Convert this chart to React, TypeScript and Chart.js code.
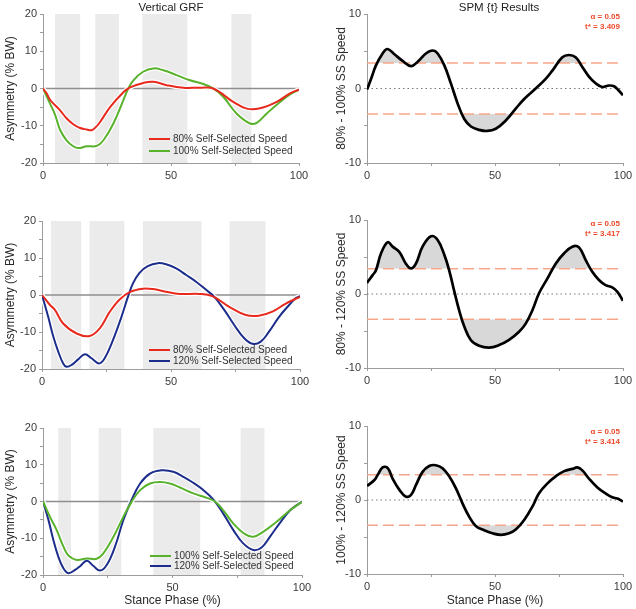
import React, { useEffect, useRef } from 'react';
import { Chart, registerables } from 'chart.js';

Chart.register(...registerables);

type Pt = [number, number];

const FONT = "'Liberation Sans', Arial, Helvetica, sans-serif";
Chart.defaults.font.family = FONT;
Chart.defaults.color = '#333333';

// ---------- Vertical GRF asymmetry (% BW), [stance %, value] ----------
const grf80_top: Pt[] = [
  [0, 0], [1.4, -1.3], [2.7, -3.0], [4.0, -4.0], [6.6, -5.8], [9.2, -8.0], [11.8, -9.6],
  [14.5, -10.6], [17.1, -11.0], [19.0, -11.2], [21.0, -10.1], [22.3, -9.0], [26.2, -5.0],
  [31.4, -1.0], [34.0, 0.3], [39.2, 1.5], [43.1, 1.8], [48.3, 0.9], [54.8, 0.2], [61.3, 0.2],
  [66.5, 0.0], [74.3, -3.6], [79.6, -5.4], [84.8, -5.3], [91.3, -3.6], [96.5, -1.3], [100, -0.3],
];
const grf100_top: Pt[] = [
  [0, 0], [2.7, -4.0], [4.7, -7.0], [6.6, -11.0], [9.2, -13.9], [11.8, -15.5], [13.8, -16.0],
  [17.1, -15.5], [21.0, -15.4], [23.6, -13.9], [27.5, -9.4], [31.4, -3.1], [33.3, 0.0],
  [35.3, 2.2], [39.1, 4.5], [43.1, 5.4], [47.0, 4.9], [52.2, 3.6], [57.4, 2.2], [62.6, 1.2],
  [66.5, 0.0], [70.4, -2.2], [75.6, -6.7], [80.9, -9.4], [83.5, -9.2], [87.4, -6.7],
  [92.6, -3.6], [96.5, -1.6], [100, -0.3],
];
const grf80_mid: Pt[] = [
  [0, 0], [3.1, -2.7], [5.0, -4.0], [8.2, -7.7], [13.4, -10.4], [18.5, -11.1], [22.4, -9.0],
  [26.3, -4.5], [30.1, -1.2], [34.0, 0.8], [39.1, 1.7], [43.0, 1.6], [48.0, 0.9], [53.3, 0.3],
  [61.0, 0.3], [66.0, -0.3], [72.6, -3.2], [79.0, -5.4], [84.0, -5.6], [89.3, -4.5],
  [94.5, -2.3], [100, -0.5],
];
const grf120_mid: Pt[] = [
  [0, 0], [2.4, -5.9], [4.4, -11.3], [6.3, -15.3], [8.2, -18.5], [9.5, -19.4], [11.5, -18.9],
  [14.0, -17.4], [16.6, -16.0], [19.2, -17.1], [22.1, -18.5], [24.3, -17.1], [27.5, -12.2],
  [30.8, -5.9], [33.3, -0.5], [35.3, 3.2], [37.8, 6.0], [41.0, 7.8], [44.9, 8.6], [48.1, 8.3],
  [52.0, 7.2], [55.9, 5.4], [59.7, 3.6], [63.6, 1.4], [66.8, -0.5], [70.7, -4.1], [74.5, -8.1],
  [78.4, -11.7], [81.6, -13.2], [84.8, -12.6], [88.0, -9.9], [91.9, -5.9], [95.8, -2.7],
  [98.3, -0.9], [100, -0.3],
];
const grf100_bot: Pt[] = [
  [0, 0], [2.7, -4.2], [5.3, -7.8], [7.9, -12.3], [9.8, -14.7], [13.0, -15.9], [16.9, -15.5],
  [20.7, -15.6], [23.3, -14.1], [27.2, -9.6], [31.0, -4.2], [34.2, -0.1], [37.5, 3.1],
  [41.3, 4.9], [45.2, 5.3], [49.0, 4.9], [52.9, 3.8], [58.0, 2.2], [63.2, 1.0], [66.4, 0.0],
  [69.6, -2.4], [73.5, -6.0], [78.0, -8.9], [81.2, -9.6], [85.1, -8.2], [90.2, -5.5],
  [95.4, -2.4], [100, -0.1],
];
const grf120_bot: Pt[] = [
  [0, 0], [2.1, -5.0], [4.0, -10.5], [5.9, -15.0], [7.9, -18.2], [9.8, -19.5], [12.4, -18.6],
  [14.3, -17.6], [16.9, -16.1], [19.4, -17.5], [22.0, -18.8], [24.6, -17.3], [27.8, -12.3],
  [31.0, -5.1], [34.2, 0.4], [37.5, 4.9], [41.3, 7.6], [45.8, 8.5], [50.3, 8.1], [54.2, 6.7],
  [58.0, 5.1], [61.9, 3.1], [65.8, 0.5], [69.6, -3.3], [73.5, -7.8], [77.3, -11.4],
  [81.2, -13.2], [84.4, -12.5], [87.6, -9.6], [91.5, -5.8], [95.4, -2.4], [98.6, -0.7], [100, -0.1],
];

// ---------- Significant regions (stance % start, end) ----------
const bands_top: Pt[] = [[4.7, 14.5], [20.4, 29.7], [38.8, 56.4], [73.6, 81.4]];
const bands_mid: Pt[] = [[3.5, 15.2], [18.4, 31.9], [39.1, 61.8], [72.7, 86.6]];
const bands_bot: Pt[] = [[5.9, 10.8], [21.5, 30.2], [42.6, 60.7], [76.3, 85.5]];

// ---------- SPM {t} statistic ----------
const spm_80_100: Pt[] = [
  [0, -0.15], [1.6, 1.3], [3.5, 3.1], [6.1, 4.7], [8.0, 5.3], [10.7, 4.6], [13.9, 3.7],
  [17.2, 3.0], [19.8, 3.6], [23.0, 4.7], [25.6, 5.1], [27.6, 4.7], [30.2, 3.1], [32.8, 0.65],
  [35.4, -2.0], [38.0, -4.1], [40.6, -5.1], [43.8, -5.55], [47.0, -5.7], [50.3, -5.4],
  [54.2, -4.3], [58.1, -2.7], [61.4, -1.4], [65.9, 0.0], [69.8, 1.3], [72.4, 2.4], [76.3, 4.2],
  [78.9, 4.5], [81.5, 4.2], [84.1, 2.9], [86.7, 1.6], [89.3, 0.7], [91.9, 0.2], [94.5, 0.4],
  [96.5, 0.3], [98.4, -0.3], [100, -0.9],
];
const spm_80_120: Pt[] = [
  [0, 1.5], [2.2, 2.55], [3.5, 3.2], [5.5, 5.5], [8.1, 7.0], [10.0, 6.4], [12.6, 5.7],
  [15.2, 4.1], [17.2, 3.45], [19.1, 4.1], [21.7, 6.4], [25.0, 7.8], [27.6, 7.3], [30.2, 5.3],
  [32.1, 3.2], [34.0, 0.5], [36.0, -2.2], [38.0, -4.4], [40.6, -6.25], [43.8, -7.0],
  [47.7, -7.25], [51.6, -6.9], [55.5, -6.2], [59.4, -5.1], [62.0, -4.0], [64.6, -2.2],
  [67.2, 0.1], [70.5, 2.1], [73.7, 4.1], [77.0, 5.5], [80.2, 6.4], [82.8, 6.3], [85.4, 4.6],
  [88.0, 3.0], [90.6, 1.9], [93.2, 1.2], [95.8, 0.9], [97.8, 0.3], [100, -0.9],
];
const spm_100_120: Pt[] = [
  [0, 1.9], [2.9, 2.7], [4.2, 3.4], [6.1, 4.4], [8.1, 4.3], [10.0, 2.9], [12.6, 1.4],
  [15.2, 0.45], [17.2, 0.7], [19.1, 2.0], [21.7, 3.8], [24.3, 4.6], [26.9, 4.7], [29.5, 4.3],
  [32.1, 3.2], [34.7, 1.6], [37.3, -0.45], [39.9, -2.25], [42.5, -3.5], [45.8, -4.1],
  [49.0, -4.5], [52.3, -4.7], [55.5, -4.5], [58.1, -4.0], [61.4, -2.7], [64.6, -0.9],
  [67.2, 0.9], [70.5, 2.25], [73.7, 3.2], [77.0, 3.9], [80.2, 4.2], [82.2, 4.4], [84.1, 4.0],
  [86.7, 2.9], [90.0, 1.7], [93.2, 0.9], [95.8, 0.36], [97.8, 0.2], [100, -0.2],
];

const tCritical = [3.409, 3.417, 3.414];
const alphaLevel = 0.05;

const speedLabels = ['80% Self-Selected Speed', '100% Self-Selected Speed', '120% Self-Selected Speed'];
const spmAxisLabels = ['80% - 100% SS Speed', '80% - 120% SS Speed', '100% - 120% SS Speed'];
const grfRange: Pt = [-20, 20];
const spmRange: Pt = [-10, 10];
const phaseRange: Pt = [0, 100];

const COLORS = { s80: '#e8291d', s100: '#58b22c', s120: '#1d2d8c' };

// ---------- panel construction ----------
interface Area { left: number; top: number; right: number; bottom: number }
interface PanelSpec {
  x: number; y: number; w: number; h: number; area: Area;
  kind: 'grf' | 'spm';
  title?: string; titleY?: number;
  xTitle?: string;
  yTitle: string; yTitlePad: number;
  series?: { label: string; color: string; pts: Pt[] }[];
  bands?: Pt[];
  legendDx?: number; legendDy?: number[];
  spm?: Pt[]; t?: number; annoDy?: number[];
}

const toXY = (pts: Pt[]) => pts.map(([x, y]) => ({ x, y }));

const panelDeco = {
  id: 'panelDeco',
  beforeDatasetsDraw(chart: any, _a: any, opts: any) {
    const { ctx, chartArea: a, scales } = chart;
    const bands = opts.bands as Pt[] | undefined;
    if (bands && bands.length) {
      ctx.save();
      ctx.fillStyle = '#ebebeb';
      for (const b of bands) {
        const x0 = scales.x.getPixelForValue(b[0]);
        const x1 = scales.x.getPixelForValue(b[1]);
        ctx.fillRect(x0, a.top, x1 - x0, a.bottom - a.top);
      }
      ctx.restore();
    }
  },
  afterDraw(chart: any, _a: any, opts: any) {
    const { ctx, chartArea: a } = chart;
    ctx.save();
    if (opts.title) {
      ctx.font = `11.5px ${FONT}`;
      ctx.fillStyle = '#222222';
      ctx.textAlign = 'center';
      ctx.textBaseline = 'middle';
      ctx.fillText(opts.title, (a.left + a.right) / 2 + opts.titleDx, opts.titleY);
    }
    const legend = opts.legend as { label: string; color: string }[] | undefined;
    if (legend && legend.length) {
      const x0 = a.left + opts.legendDx;
      legend.forEach((item, i) => {
        const y = a.bottom + opts.legendDy[i];
        ctx.strokeStyle = item.color;
        ctx.lineWidth = 2;
        ctx.beginPath();
        ctx.moveTo(x0, y);
        ctx.lineTo(x0 + 21, y);
        ctx.stroke();
        ctx.font = `10px ${FONT}`;
        ctx.fillStyle = '#333333';
        ctx.textAlign = 'left';
        ctx.textBaseline = 'middle';
        ctx.fillText(item.label, x0 + 24, y + 0.5);
      });
    }
    if (opts.anno) {
      ctx.font = `bold 8px ${FONT}`;
      ctx.fillStyle = '#ee4a2b';
      ctx.textAlign = 'right';
      ctx.textBaseline = 'middle';
      ctx.fillText(opts.anno[0], a.right - 3, a.top + opts.annoDy[0]);
      ctx.fillText(opts.anno[1], a.right - 3, a.top + opts.annoDy[1]);
    }
    ctx.restore();
  },
};

function buildConfig(s: PanelSpec): any {
  const axisColor = '#9c9c9c';
  const yr = s.kind === 'grf' ? grfRange : spmRange;
  const datasets: any[] = [];
  const line = (pts: Pt[], color: string, width: number, extra: any = {}) => ({
    data: toXY(pts), borderColor: color, backgroundColor: color, borderWidth: width,
    pointRadius: 0, fill: false, tension: 0.4, borderJoinStyle: 'round', ...extra,
  });
  if (s.kind === 'grf') {
    const series = s.series || [];
    series.forEach((sr) => datasets.push({ label: sr.label, ...line(sr.pts, sr.color, 2) }));
    series.forEach((sr) => datasets.push({ label: '', ...line(sr.pts, '#ffffff', 4.5) }));
    datasets.push({ label: '', ...line([[phaseRange[0], 0], [phaseRange[1], 0]], '#8e8e8e', 1.5, { tension: 0 }) });
  } else {
    const t = s.t as number;
    const pts = s.spm as Pt[];
    datasets.push({ label: 'SPM {t}', ...line(pts, '#000000', 2.7) });
    datasets.push({ label: '', ...line([[phaseRange[0], t], [phaseRange[1], t]], '#f6a78b', 1.5, { borderDash: [11, 5], tension: 0 }) });
    datasets.push({ label: '', ...line([[phaseRange[0], -t], [phaseRange[1], -t]], '#f6a78b', 1.5, { borderDash: [11, 5], tension: 0 }) });
    datasets.push({ label: '', ...line(pts, 'rgba(0,0,0,0)', 0, { fill: { target: { value: t }, above: '#d8d8d8', below: 'rgba(0,0,0,0)' } }) });
    datasets.push({ label: '', ...line(pts, 'rgba(0,0,0,0)', 0, { fill: { target: { value: -t }, above: 'rgba(0,0,0,0)', below: '#d8d8d8' } }) });
    datasets.push({ label: '', ...line([[phaseRange[0], 0], [phaseRange[1], 0]], '#7a7a7a', 1.2, { borderDash: [1.5, 3], tension: 0 }) });
  }

  return {
    type: 'line',
    data: { datasets },
    options: {
      animation: false,
      responsive: false,
      maintainAspectRatio: false,
      events: [],
      layout: { padding: { top: s.area.top, right: s.w - s.area.right, left: 0, bottom: 0 } },
      scales: {
        x: {
          type: 'linear', min: phaseRange[0], max: phaseRange[1],
          border: { color: axisColor, width: 1 },
          grid: { drawOnChartArea: false, drawTicks: true, tickLength: 3, color: axisColor },
          ticks: {
            stepSize: 25, autoSkip: false, maxRotation: 0, padding: 3, color: '#3a3a3a',
            font: { size: 11 },
            callback: (v: any) => (Number(v) % 50 === 0 ? String(v) : ''),
          },
          title: {
            display: !!s.xTitle, text: s.xTitle || '', color: '#2a2a2a',
            font: { size: 12 }, padding: { top: 0, bottom: 1 },
          },
          afterFit: (sc: any) => { sc.height = s.h - s.area.bottom; },
        },
        y: {
          type: 'linear', min: yr[0], max: yr[1],
          border: { color: axisColor, width: 1 },
          grid: { drawOnChartArea: false, drawTicks: true, tickLength: 3, color: axisColor },
          ticks: {
            stepSize: 5, autoSkip: false, padding: 3, color: '#3a3a3a', font: { size: 11 },
            callback: (v: any) => (Number(v) % 10 === 0 ? String(v) : ''),
          },
          title: {
            display: true, text: s.yTitle, color: '#2a2a2a', font: { size: 12 },
            padding: { top: s.yTitlePad, bottom: 0 },
          },
          afterFit: (sc: any) => { sc.width = s.area.left; },
        },
      },
      plugins: {
        legend: { display: false },
        tooltip: { enabled: false },
        panelDeco: {
          title: s.title || '',
          titleY: s.titleY || 0,
          titleDx: s.kind === 'spm' ? 4 : 0,
          bands: s.bands || [],
          legend: (s.series || []).map((sr) => ({ label: sr.label, color: sr.color })),
          legendDx: s.legendDx || 0,
          legendDy: s.legendDy || [],
          anno: s.kind === 'spm' ? [`α = ${alphaLevel}`, `t* = ${s.t}`] : null,
          annoDy: s.annoDy || [],
        },
      },
    },
    plugins: [panelDeco],
  };
}

const panels: PanelSpec[] = [
  {
    x: 0, y: 0, w: 318, h: 200, area: { left: 43, top: 14, right: 299, bottom: 163 }, kind: 'grf',
    title: 'Vertical GRF', titleY: 8, yTitle: 'Asymmetry (% BW)', yTitlePad: 3.8,
    series: [
      { label: speedLabels[0], color: COLORS.s80, pts: grf80_top },
      { label: speedLabels[1], color: COLORS.s100, pts: grf100_top },
    ],
    bands: bands_top, legendDx: 106, legendDy: [-24, -12],
  },
  {
    x: 318, y: 0, w: 318, h: 200, area: { left: 49, top: 14, right: 305, bottom: 163 }, kind: 'spm',
    title: 'SPM {t} Results', titleY: 8, yTitle: spmAxisLabels[0], yTitlePad: 16.3,
    spm: spm_80_100, t: tCritical[0], annoDy: [3, 13],
  },
  {
    x: 0, y: 200, w: 318, h: 200, area: { left: 42, top: 21, right: 300, bottom: 169 }, kind: 'grf',
    yTitle: 'Asymmetry (% BW)', yTitlePad: 3.8,
    series: [
      { label: speedLabels[0], color: COLORS.s80, pts: grf80_mid },
      { label: speedLabels[2], color: COLORS.s120, pts: grf120_mid },
    ],
    bands: bands_mid, legendDx: 107, legendDy: [-19, -8],
  },
  {
    x: 318, y: 200, w: 318, h: 200, area: { left: 49, top: 20, right: 305, bottom: 168 }, kind: 'spm',
    yTitle: spmAxisLabels[1], yTitlePad: 16.3,
    spm: spm_80_120, t: tCritical[1], annoDy: [4, 14],
  },
  {
    x: 0, y: 400, w: 318, h: 209, area: { left: 43, top: 28, right: 302, bottom: 175 }, kind: 'grf',
    yTitle: 'Asymmetry (% BW)', yTitlePad: 3.8, xTitle: 'Stance Phase (%)',
    series: [
      { label: speedLabels[1], color: COLORS.s100, pts: grf100_bot },
      { label: speedLabels[2], color: COLORS.s120, pts: grf120_bot },
    ],
    bands: bands_bot, legendDx: 107, legendDy: [-19, -9],
  },
  {
    x: 318, y: 400, w: 318, h: 209, area: { left: 49, top: 26, right: 305, bottom: 174 }, kind: 'spm',
    yTitle: spmAxisLabels[2], yTitlePad: 16.3, xTitle: 'Stance Phase (%)',
    spm: spm_100_120, t: tCritical[2], annoDy: [6, 16],
  },
];

function ChartPanel({ spec }: { spec: PanelSpec }) {
  const ref = useRef<HTMLCanvasElement | null>(null);
  useEffect(() => {
    if (!ref.current) return;
    const chart = new Chart(ref.current, buildConfig(spec));
    return () => chart.destroy();
  }, [spec]);
  return (
    <canvas
      ref={ref}
      width={spec.w}
      height={spec.h}
      style={{ position: 'absolute', left: spec.x, top: spec.y, width: spec.w, height: spec.h }}
    />
  );
}

export default function App() {
  return (
    <div style={{ position: 'fixed', left: 0, top: 0, width: 636, height: 609, background: '#ffffff', overflow: 'hidden' }}>
      {panels.map((p, i) => (
        <ChartPanel key={i} spec={p} />
      ))}
    </div>
  );
}
